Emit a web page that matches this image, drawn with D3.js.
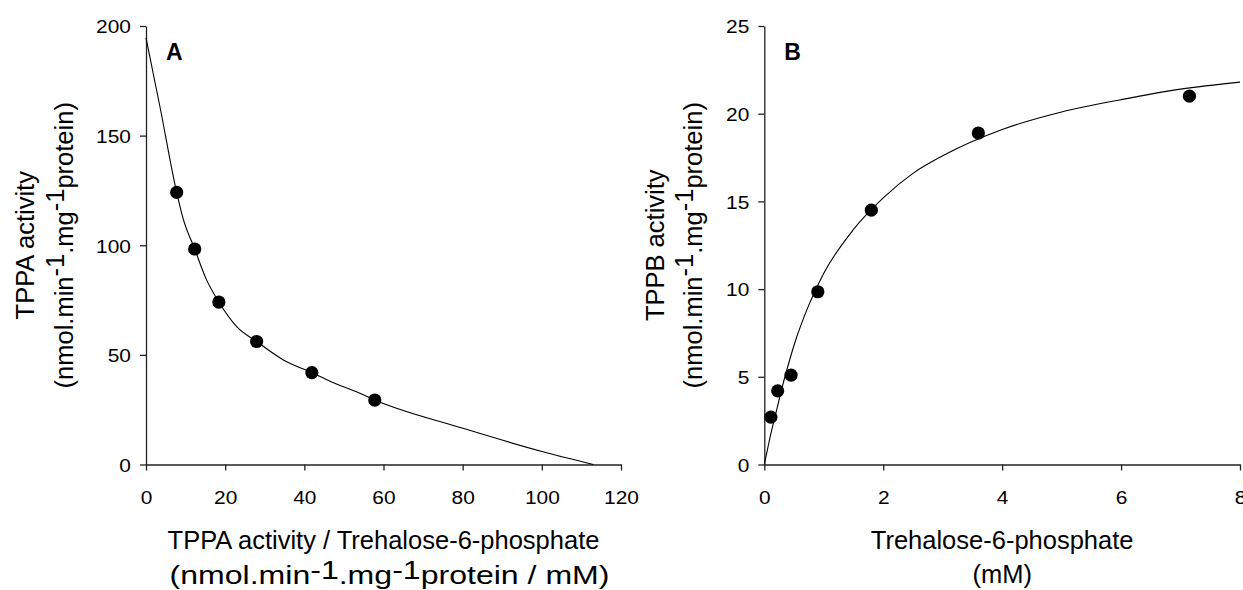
<!DOCTYPE html>
<html><head><meta charset="utf-8">
<script src="https://cdn.jsdelivr.net/npm/d3@7/dist/d3.min.js"></script>
<style>
body{margin:0;background:#fff}
text{font-family:"Liberation Sans",Arial,sans-serif;fill:#000}
</style></head>
<body>
<svg id="chart" width="1243" height="590"></svg>
<script>
// ---- Panel A data (Eadie-Hofstee plot) ----
const aPointsX = [7.75, 12.3, 18.4, 27.95, 41.9, 57.8];
const aPointsY = [124.1, 98.3, 74.1, 56.1, 41.9, 29.4];
const aFitX = [0, 3.5, 7.75, 9.4, 12.3, 15.3, 18.4, 22.9, 27.95, 34.7, 41.9, 46.5, 54, 57.8, 80.1, 100.3, 113];
const aFitY = [194.6, 163.4, 124.1, 112, 98.3, 84.2, 74.1, 62.9, 56.1, 47.7, 41.9, 38, 32.5, 29.4, 16.5, 5.8, 0];
const aXTicks = [0, 20, 40, 60, 80, 100, 120];
const aYTicks = [0, 50, 100, 150, 200];

// ---- Panel B data (saturation curve) ----
const bPointsX = [0.11, 0.225, 0.45, 0.9, 1.8, 3.6, 7.15];
const bPointsY = [2.7, 4.2, 5.1, 9.85, 14.5, 18.9, 21.0];
const bFitX = [0, 0.05, 0.1, 0.2, 0.3, 0.43, 0.5, 0.75, 1, 1.5, 2, 2.5, 3, 4, 5, 6, 7, 8];
const bFitY = [0, 0.8, 1.6, 3.0, 4.4, 6.0, 6.8, 9.1, 10.9, 13.4, 15.2, 16.6, 17.6, 19.1, 20.1, 20.8, 21.4, 21.8];
const bXTicks = [0, 2, 4, 6, 8];
const bYTicks = [0, 5, 10, 15, 20, 25];

const svg = d3.select("#chart");
const TICK_FS = 19, TICK_SX = 1.1, TITLE_FS = 25.5;

function addParts(t, parts, shift) {
  let pending = 0;
  parts.forEach(p => {
    if (typeof p === "string") {
      const s = t.append("tspan").text(p);
      if (pending) { s.attr("dy", pending); pending = 0; }
    } else {
      t.append("tspan").attr("dy", -shift).text(p.sup);
      pending = shift;
    }
  });
}

function panel(cfg) {
  const x = d3.scaleLinear().domain(cfg.xDomain).range(cfg.xRange);
  const y = d3.scaleLinear().domain(cfg.yDomain).range(cfg.yRange);
  const g = svg.append("g");

  const xAxis = g.append("g").attr("transform", `translate(0,${cfg.yRange[0]})`)
    .call(d3.axisBottom(x).tickValues(cfg.xTicks).tickSize(6).tickSizeOuter(0).tickFormat(d3.format("d")));
  const yAxis = g.append("g").attr("transform", `translate(${cfg.xRange[0]},0)`)
    .call(d3.axisLeft(y).tickValues(cfg.yTicks).tickSize(6).tickSizeOuter(0).tickFormat(d3.format("d")));
  [xAxis, yAxis].forEach(a => {
    a.attr("font-size", TICK_FS).attr("font-family", "Liberation Sans, Arial, sans-serif");
    a.select(".domain").attr("stroke", "#222").attr("stroke-width", 1.3);
    a.selectAll(".tick line").attr("stroke", "#222").attr("stroke-width", 1.3);
    a.selectAll(".tick text").attr("font-size", TICK_FS).attr("fill", "#000");
  });
  xAxis.selectAll(".tick text").attr("y", null).attr("dy", null)
    .attr("transform", `translate(0,39) scale(${TICK_SX},1)`);
  yAxis.selectAll(".tick text").attr("x", null).attr("dy", "0.36em")
    .attr("transform", `translate(-15,0) scale(${TICK_SX},1)`);

  const line = d3.line().x(d => x(d[0])).y(d => y(d[1])).curve(d3.curveMonotoneX);
  g.append("path").datum(cfg.fitX.map((v, i) => [v, cfg.fitY[i]]))
    .attr("d", line).attr("fill", "none").attr("stroke", "#000").attr("stroke-width", 1.1);

  g.selectAll("circle.pt").data(cfg.ptX.map((v, i) => [v, cfg.ptY[i]])).enter()
    .append("circle").attr("class", "pt")
    .attr("cx", d => x(d[0])).attr("cy", d => y(d[1])).attr("r", 6.6).attr("fill", "#000");

  g.append("text").attr("x", cfg.xRange[0] + 20).attr("y", 60)
    .attr("font-size", 23).attr("font-weight", "bold").text(cfg.letter);

  const yc = (cfg.yRange[0] + cfg.yRange[1]) / 2;
  cfg.yTitle.forEach((parts, i) => {
    const t = g.append("text").attr("text-anchor", "middle").attr("font-size", TITLE_FS)
      .attr("transform", `translate(${cfg.yTitleX[i]},${yc}) rotate(-90)`);
    addParts(t, parts, 9);
  });
  const xc = (cfg.xRange[0] + cfg.xRange[1]) / 2;
  cfg.xTitle.forEach((parts, i) => {
    const t = g.append("text").attr("text-anchor", "middle").attr("font-size", TITLE_FS)
      .attr("x", xc + (cfg.xTitleDx ? cfg.xTitleDx[i] : 0)).attr("y", cfg.xTitleY[i]);
    addParts(t, parts, 5);
    if (cfg.xTitleLen && cfg.xTitleLen[i]) t.attr("textLength", cfg.xTitleLen[i]).attr("lengthAdjust", "spacingAndGlyphs");
  });
}

const unitParts = ["(nmol.min", {sup: "-1"}, ".mg", {sup: "-1"}, "protein)"];

panel({
  xDomain: [0, 120], xRange: [146, 621], yDomain: [0, 200], yRange: [464.5, 26],
  xTicks: aXTicks, yTicks: aYTicks, ptX: aPointsX, ptY: aPointsY, fitX: aFitX, fitY: aFitY,
  letter: "A",
  yTitle: [["TPPA activity"], unitParts], yTitleX: [33.5, 72.5],
  xTitle: [["TPPA activity / Trehalose-6-phosphate"], ["(nmol.min", {sup: "-1"}, ".mg", {sup: "-1"}, "protein / mM)"]],
  xTitleY: [549, 584], xTitleLen: [null, 440], xTitleDx: [0, 6]
});

panel({
  xDomain: [0, 8], xRange: [764.3, 1240], yDomain: [0, 25], yRange: [464.5, 26],
  xTicks: bXTicks, yTicks: bYTicks, ptX: bPointsX, ptY: bPointsY, fitX: bFitX, fitY: bFitY,
  letter: "B",
  yTitle: [["TPPB activity"], unitParts], yTitleX: [664, 702],
  xTitle: [["Trehalose-6-phosphate"], ["(mM)"]],
  xTitleY: [549, 583]
});
</script>
</body></html>
